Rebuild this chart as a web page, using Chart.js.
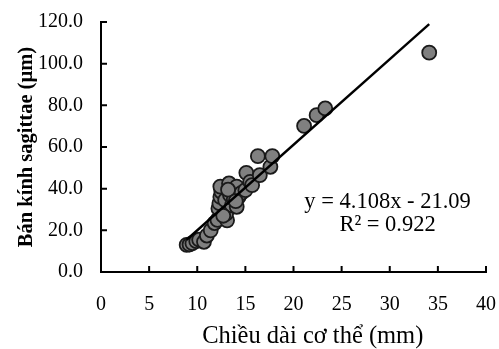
<!DOCTYPE html>
<html>
<head>
<meta charset="utf-8">
<script src="https://cdn.jsdelivr.net/npm/chart.js@4/dist/chart.umd.min.js"></script>
<style>
	html, body { margin: 0; padding: 0; background: #fff; }
	#wrap { width: 499px; height: 349px; }
</style>
</head>
<body>
<div id="wrap"><canvas id="chart" width="499" height="349"></canvas></div>
<script>
// body length (mm) and sagitta radius (um)
var bodyLength = [8.9, 9.2, 9.5, 9.9, 10.2, 10.7, 11.0, 11.4, 11.8, 12.1, 13.1, 12.2, 12.3, 12.4, 12.5, 12.4, 12.9, 13.0, 13.3, 13.4,
	13.6, 13.8, 14.1, 14.1, 14.3, 14.6, 15.0, 15.1, 15.5, 15.7, 16.5, 16.3, 17.6, 17.8, 21.1, 22.4, 23.3, 34.1, 12.7, 13.2, 14.0];
var sagittaRadius = [13.0, 13.2, 13.8, 14.8, 15.5, 14.5, 17.5, 20.0, 23.5, 25.0, 24.8, 30.5, 33.0, 36.0, 38.5, 41.0, 34.5, 28.0, 42.5, 37.0,
	32.0, 35.0, 31.3, 41.0, 36.0, 38.0, 39.3, 47.6, 43.3, 41.7, 46.5, 55.6, 50.5, 55.6, 70.1, 75.3, 78.5, 105.3, 27.0, 39.5, 34.0];
var xTicks = [0, 5, 10, 15, 20, 25, 30, 35, 40];
var yTicks = [0, 20, 40, 60, 80, 100, 120];

// trendline as printed on the chart
var slope = 4.108;
var intercept = -21.09;
var eqText = ["y = 4.108x - 21.09", "R² = 0.922"];
var xTitle = 'Chiều dài cơ thể (mm)';

var points = bodyLength.map(function(x, i){ return {x: x, y: sagittaRadius[i]}; });
var xMin = Math.min.apply(null, bodyLength);
var xMax = Math.max.apply(null, bodyLength);
var trend = [{x: xMin, y: slope * xMin + intercept}, {x: xMax, y: slope * xMax + intercept}];

var serif = "'Liberation Serif', 'Times New Roman', serif";

// tick marks pointing inward, equation label, x title (sits right of centre in the original)
var extras = {
	id: 'extras',
	afterDatasetsDraw: function(chart){
		var ctx = chart.ctx;
		var xs = chart.scales.x, ys = chart.scales.y;
		var a = chart.chartArea;
		ctx.save();
		ctx.strokeStyle = '#000';
		ctx.lineWidth = 2;
		ctx.beginPath();
		xTicks.forEach(function(v){
			var px = xs.getPixelForValue(v);
			ctx.moveTo(px, a.bottom);
			ctx.lineTo(px, a.bottom - 6);
		});
		yTicks.forEach(function(v){
			var py = ys.getPixelForValue(v);
			ctx.moveTo(a.left, py);
			ctx.lineTo(a.left + 6, py);
		});
		ctx.stroke();
		ctx.fillStyle = '#000';
		ctx.font = '22.5px ' + serif;
		ctx.textAlign = 'center';
		ctx.textBaseline = 'middle';
		var cx = xs.getPixelForValue(29.77);
		var cy = ys.getPixelForValue(33.7);
		ctx.fillText(eqText[0], cx, cy);
		ctx.fillText(eqText[1], cx, cy + 23.5);
		ctx.font = '24.5px ' + serif;
		ctx.fillText(xTitle, xs.getPixelForValue(22), a.bottom + 65);
		ctx.restore();
	}
};

var ctx = document.getElementById("chart").getContext("2d");
window.myChart = new Chart(ctx, {
	type: 'scatter',
	data: {
		datasets: [
			{
				type: 'line',
				label: 'Trend',
				data: trend,
				borderColor: '#000',
				borderWidth: 2.4,
				pointRadius: 0,
				fill: false,
				order: 0
			},
			{
				label: 'Data',
				data: points,
				backgroundColor: '#808080',
				borderColor: '#1a1a1a',
				borderWidth: 1.8,
				pointRadius: 7,
				order: 1
			}
		]
	},
	plugins: [extras],
	options: {
		responsive: false,
		animation: false,
		layout: { padding: { top: 22, right: 13, left: 0, bottom: 0 } },
		plugins: {
			legend: { display: false },
			tooltip: { enabled: false }
		},
		scales: {
			x: {
				type: 'linear',
				min: 0,
				max: 40,
				afterBuildTicks: function(s){ s.ticks = xTicks.map(function(v){ return {value: v}; }); },
				afterFit: function(s){ s.height = 77; s.paddingLeft = 0; s.paddingRight = 0; },
				grid: { display: false, drawTicks: false },
				border: { display: true, color: '#000', width: 2 },
				ticks: { color: '#000', padding: 21, maxRotation: 0, font: { family: serif, size: 20 } },
				title: { display: false }
			},
			y: {
				type: 'linear',
				min: 0,
				max: 120,
				afterBuildTicks: function(s){ s.ticks = yTicks.map(function(v){ return {value: v}; }); },
				afterFit: function(s){ s.width = 101; s.paddingTop = 0; s.paddingBottom = 0; },
				grid: { display: false, drawTicks: false },
				border: { display: true, color: '#000', width: 2 },
				ticks: {
					color: '#000',
					padding: 18,
					font: { family: serif, size: 20 },
					callback: function(v){ return Number(v).toFixed(1); }
				},
				title: {
					display: true,
					text: 'Bán kính sagittae (µm)',
					color: '#000',
					padding: { top: 14, bottom: 0 },
					font: { family: serif, size: 20.5, weight: 'bold' }
				}
			}
		}
	}
});
</script>
</body>
</html>
